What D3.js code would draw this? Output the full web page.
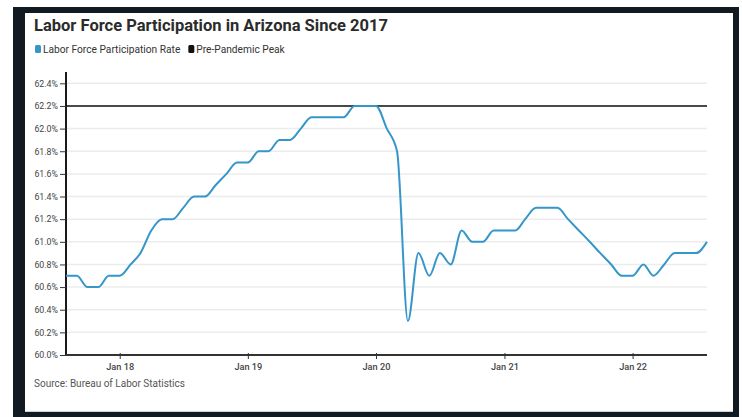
<!DOCTYPE html>
<html>
<head>
<meta charset="utf-8">
<script src="https://cdn.jsdelivr.net/npm/d3@7"></script>
<style>
  body { margin: 0; background: #fff; }
  text { font-family: Roboto, "Noto Sans", sans-serif; }
</style>
</head>
<body>
<div id="chart"></div>
<script>
// size of the page
const width = 742; const height = 417;
const margin = {top: 72, right: 35, bottom: 62, left: 66};

// monthly rate, Aug 2017 .. Aug 2022
const startMonth = "2017-08";
const rates = [
  60.7, 60.7, 60.6, 60.6, 60.7,
  60.7, 60.8, 60.9, 61.1, 61.2, 61.2, 61.3, 61.4, 61.4, 61.5, 61.6, 61.7,
  61.7, 61.8, 61.8, 61.9, 61.9, 62.0, 62.1, 62.1, 62.1, 62.1, 62.2, 62.2,
  62.2, 62.0, 61.8, 60.3, 60.9, 60.7, 60.9, 60.8, 61.1, 61.0, 61.0, 61.1,
  61.1, 61.1, 61.2, 61.3, 61.3, 61.3, 61.2, 61.1, 61.0, 60.9, 60.8, 60.7,
  60.7, 60.8, 60.7, 60.8, 60.9, 60.9, 60.9, 61.0
];
const peak = 62.2;
const yTicks = [60.0, 60.2, 60.4, 60.6, 60.8, 61.0, 61.2, 61.4, 61.6, 61.8, 62.0, 62.2, 62.4];
const legendItems = [
  {name: "Labor Force Participation Rate", color: "#3596c9"},
  {name: "Pre-Pandemic Peak", color: "#111"}
];

const parseMonth = d3.timeParse("%Y-%m");
const t0 = parseMonth(startMonth);
const data = rates.map((v, i) => ({date: d3.timeMonth.offset(t0, i), value: v}));

const svg = d3.select('#chart')
  .append('svg')
    .attr('width', width)
    .attr('height', height);

// dark frame and white card
svg.append('rect')
  .attr('x', 13).attr('y', 7).attr('width', 726).attr('height', 410)
  .attr('fill', '#121a21');
svg.append('rect')
  .attr('x', 25).attr('y', 13).attr('width', 708).attr('height', 399)
  .attr('fill', '#fff');
svg.append('line')
  .attr('x1', 25).attr('x2', 733).attr('y1', 411.5).attr('y2', 411.5)
  .attr('stroke', '#cfd3d6').attr('stroke-width', 1);

// title
svg.append('text')
  .attr('x', 34).attr('y', 31)
  .attr('font-size', 16.5).attr('font-weight', 700)
  .attr('fill', '#2b2b2b')
  .text('Labor Force Participation in Arizona Since 2017');

// legend
let lx = 35;
legendItems.forEach(item => {
  svg.append('rect')
    .attr('x', lx).attr('y', 45).attr('width', 6).attr('height', 8)
    .attr('rx', 1.5)
    .attr('fill', item.color);
  const t = svg.append('text')
    .attr('x', lx + 8).attr('y', 52.5)
    .attr('font-size', 10.2)
    .attr('fill', '#333')
    .text(item.name);
  lx += 8 + t.node().getComputedTextLength() + 8;
});

const innerWidth = width - margin.left - margin.right;
const innerHeight = height - margin.top - margin.bottom;

const x = d3.scaleTime()
  .domain(d3.extent(data, d => d.date))
  .range([margin.left, margin.left + innerWidth]);
const y = d3.scaleLinear()
  .domain([60, 62.5])
  .range([margin.top + innerHeight, margin.top]);

// gridlines
svg.append('g')
  .selectAll('line')
  .data(yTicks.filter(v => v > 60))
  .join('line')
    .attr('x1', margin.left).attr('x2', margin.left + innerWidth)
    .attr('y1', d => y(d)).attr('y2', d => y(d))
    .attr('stroke', '#ececec').attr('stroke-width', 1.5);

// y axis
const yAxis = svg.append('g')
  .attr('transform', `translate(${margin.left},0)`)
  .call(d3.axisLeft(y).tickValues(yTicks).tickSize(6).tickPadding(2)
    .tickFormat(d => d.toFixed(1) + '%'));
yAxis.select('.domain').attr('stroke', '#1a1a1a').attr('stroke-width', 2)
  .attr('d', `M0,${margin.top}V${margin.top + innerHeight}`);
yAxis.selectAll('.tick line').attr('stroke', '#333');
yAxis.selectAll('.tick text')
  .attr('font-size', 8.8).attr('fill', '#444').attr('font-family', 'Roboto, sans-serif');

// x axis
const xAxis = svg.append('g')
  .attr('transform', `translate(0,${margin.top + innerHeight})`)
  .call(d3.axisBottom(x).ticks(d3.timeYear.every(1)).tickSize(4).tickPadding(4)
    .tickFormat(d3.timeFormat('Jan %y')));
xAxis.select('.domain').attr('stroke', '#333').attr('stroke-width', 2)
  .attr('d', `M${margin.left},0H${margin.left + innerWidth}`);
xAxis.selectAll('.tick line').attr('stroke', '#333').attr('y1', -2);
xAxis.selectAll('.tick text')
  .attr('font-size', 9.2).attr('font-weight', 500).attr('fill', '#444')
  .attr('font-family', 'Roboto, sans-serif');

// pre-pandemic peak
svg.append('line')
  .attr('x1', margin.left).attr('x2', margin.left + innerWidth)
  .attr('y1', y(peak)).attr('y2', y(peak))
  .attr('stroke', '#111').attr('stroke-width', 1.6);

// rate line
svg.append('path')
  .datum(data)
  .attr('fill', 'none')
  .attr('stroke', legendItems[0].color)
  .attr('stroke-width', 2)
  .attr('stroke-linejoin', 'round')
  .attr('d', d3.line()
    .curve(d3.curveMonotoneX)
    .x(d => x(d.date))
    .y(d => y(d.value)));

// source
svg.append('text')
  .attr('x', 34).attr('y', 387)
  .attr('font-size', 10)
  .attr('fill', '#555')
  .text('Source: Bureau of Labor Statistics');
</script>
</body>
</html>
